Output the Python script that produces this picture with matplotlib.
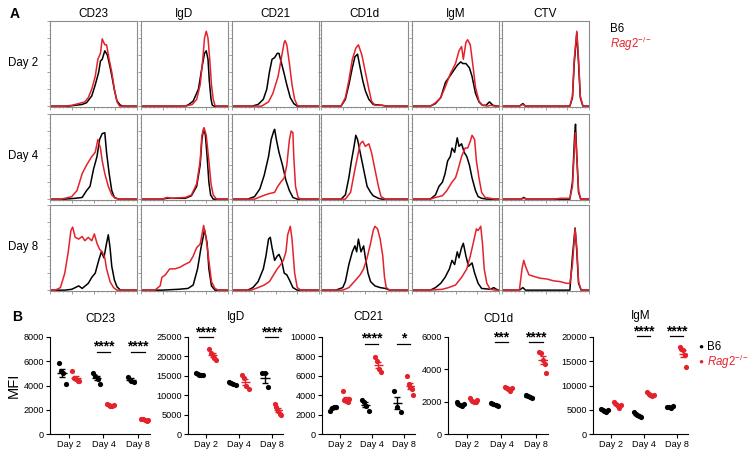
import numpy as np
import matplotlib.pyplot as plt
from matplotlib.ticker import MultipleLocator

plt.rcParams['font.family'] = ['Liberation Sans', 'DejaVu Sans']
plt.rcParams['mathtext.fontset'] = 'custom'
plt.rcParams['mathtext.rm'] = 'Liberation Sans'
plt.rcParams['mathtext.it'] = 'Liberation Sans:italic'

RED = '#e4222b'

markers = ['CD23', 'IgD', 'CD21', 'CD1d', 'IgM', 'CTV']
days = ['Day 2', 'Day 4', 'Day 8']

# histogram traces: (channel %, count % of panel height) for day 2 / 4 / 8
cd23_b6 = [
    [(21, 0), (37, 2), (42, 4), (48, 12), (52, 25), (56, 40), (58, 53), (60, 55), (63, 65), (66, 60), (69, 46), (71, 36), (74, 19), (77, 6), (81, 1), (85, 0)],
    [(17, 0), (29, 1), (37, 2), (42, 10), (46, 15), (50, 35), (54, 50), (57, 70), (60, 77), (63, 78), (65, 55), (68, 30), (71, 10), (74, 2), (79, 0)],
    [(17, 0), (25, 1), (29, 3), (33, 5), (37, 2), (44, 8), (48, 15), (52, 20), (56, 35), (59, 45), (62, 38), (65, 55), (67, 65), (69, 50), (71, 28), (74, 12), (77, 4), (81, 0)],
]
cd23_rag = [
    [(17, 0), (25, 1), (33, 3), (40, 5), (44, 10), (48, 20), (52, 35), (55, 55), (58, 62), (60, 79), (63, 72), (65, 72), (68, 55), (71, 40), (74, 20), (77, 5), (80, 0)],
    [(12, 0), (17, 1), (25, 3), (31, 10), (37, 30), (42, 40), (48, 50), (52, 55), (55, 70), (58, 60), (60, 45), (63, 30), (67, 15), (71, 5), (75, 1), (79, 0)],
    [(6, 0), (12, 3), (17, 20), (21, 45), (24, 70), (26, 74), (29, 62), (33, 60), (37, 63), (40, 58), (44, 62), (48, 58), (51, 66), (54, 55), (57, 48), (60, 45), (63, 38), (65, 25), (69, 10), (73, 3), (77, 0)],
]
igd_b6 = [
    [(51, 0), (55, 2), (60, 6), (66, 20), (70, 45), (73, 62), (75, 65), (77, 55), (78.5, 30), (80.5, 8), (82, 1), (84, 0)],
    [(24, 0), (30, 1), (51, 1), (58, 4), (64, 15), (68, 40), (70, 70), (72, 83), (74, 75), (76, 50), (78, 20), (80, 5), (83, 0)],
    [(24, 0), (43, 1), (54, 2), (60, 6), (65, 25), (69, 50), (71, 60), (73, 71), (76, 55), (78, 25), (81, 5), (85, 0)],
]
igd_rag = [
    [(51, 0), (59, 2), (64, 8), (68, 25), (71, 55), (73, 80), (75, 88), (77, 80), (79, 55), (81, 25), (83, 8), (85, 1), (87, 0)],
    [(24, 0), (30, 2), (35, 1), (51, 2), (58, 5), (64, 18), (68, 45), (70, 75), (72.5, 84), (75, 75), (78, 45), (80.5, 18), (83, 5), (86, 1), (88, 0)],
    [(16, 0), (22, 5), (24, 15), (28, 18), (33, 25), (39, 25), (45, 27), (50, 30), (56, 33), (60, 40), (64, 50), (68, 54), (70, 65), (72, 76), (75, 60), (78, 35), (81, 10), (85, 2), (89, 0)],
]
cd21_b6 = [
    [(23, 0), (30, 2), (36, 8), (40, 20), (43, 40), (46, 55), (49, 57), (52, 62), (54, 62), (57, 50), (60, 38), (63, 25), (67, 10), (71, 3), (75, 0)],
    [(18, 0), (26, 3), (32, 12), (37, 28), (42, 50), (45, 70), (48, 80), (49, 82), (51, 70), (54, 55), (58, 40), (62, 22), (66, 10), (70, 2), (75, 0)],
    [(18, 0), (24, 3), (30, 10), (36, 25), (39, 40), (42, 60), (44, 62), (46, 50), (49, 35), (52, 40), (54, 42), (57, 35), (60, 20), (63, 18), (66, 12), (70, 3), (75, 0)],
]
cd21_rag = [
    [(34, 0), (42, 5), (47, 15), (53, 35), (57, 58), (60, 75), (61, 77), (63, 72), (66, 50), (69, 25), (72, 8), (75, 1), (78, 0)],
    [(26, 0), (33, 3), (41, 6), (49, 8), (52, 14), (56, 20), (60, 25), (63, 40), (66, 70), (68, 80), (70, 78), (71, 50), (73, 15), (76, 2), (79, 0)],
    [(22, 0), (30, 3), (37, 6), (43, 10), (49, 20), (52, 25), (56, 30), (59, 35), (62, 45), (64, 65), (67, 75), (69, 60), (72, 20), (75, 3), (79, 0)],
]
cd1d_b6 = [
    [(23, 0), (28, 8), (32, 25), (36, 45), (39, 58), (42, 61), (45, 45), (48, 30), (51, 18), (55, 8), (60, 2), (70, 1), (75, 0)],
    [(23, 0), (28, 5), (32, 25), (35, 45), (38, 62), (40, 75), (42, 70), (44, 60), (47, 45), (50, 30), (53, 15), (57, 8), (60, 4), (66, 1), (70, 0)],
    [(17, 0), (25, 3), (28, 10), (32, 30), (36, 45), (39, 52), (41, 45), (43, 60), (46, 45), (49, 52), (51, 38), (54, 20), (57, 10), (62, 5), (68, 3), (74, 2), (79, 0)],
]
cd1d_rag = [
    [(23, 0), (28, 10), (32, 30), (36, 55), (40, 68), (43, 72), (47, 60), (51, 40), (55, 20), (58, 6), (62, 1), (70, 1), (77, 0)],
    [(28, 0), (34, 8), (39, 35), (42, 50), (45, 65), (48, 68), (51, 62), (55, 65), (58, 55), (62, 35), (66, 15), (69, 3), (74, 0)],
    [(25, 0), (32, 3), (40, 12), (45, 18), (49, 25), (53, 38), (57, 55), (60, 70), (62, 75), (65, 72), (68, 60), (71, 40), (73, 15), (75, 3), (79, 0)],
]
igm_b6 = [
    [(21, 0), (27, 3), (33, 10), (38.5, 28), (44, 36), (48, 42), (52, 48), (56, 52), (58.5, 50), (62, 50), (66, 45), (69, 35), (73, 15), (77, 5), (81, 1), (85, 1), (89, 5), (93, 1), (98, 0)],
    [(21, 0), (27, 5), (31, 15), (35, 20), (38, 30), (41, 45), (44, 50), (46, 60), (49, 55), (52, 72), (54, 62), (57, 65), (60, 55), (63, 50), (66, 40), (69, 25), (73, 10), (76, 3), (80, 1), (86, 0)],
    [(21, 0), (27, 3), (33, 8), (38, 15), (43, 25), (46, 35), (49, 30), (52, 45), (54, 38), (57, 50), (59, 55), (62, 40), (65, 28), (69, 32), (72, 20), (76, 8), (80, 2), (90, 1), (94, 3), (97, 1)],
]
igm_rag = [
    [(21, 0), (27, 4), (33, 10), (38, 22), (44, 38), (50, 50), (54, 65), (57, 70), (59, 55), (62, 75), (64, 78), (67, 72), (70, 48), (73, 22), (77, 6), (81, 1), (87, 0), (90, 1), (96, 0)],
    [(21, 0), (27, 2), (35, 4), (40, 10), (46, 20), (50, 25), (53, 35), (57, 50), (61, 60), (64, 60), (67, 68), (69, 75), (72, 70), (74, 45), (77, 25), (80, 8), (84, 2), (90, 1), (96, 0)],
    [(21, 0), (35, 1), (42, 3), (50, 6), (57, 15), (63, 25), (67, 40), (71, 58), (74, 72), (76, 70), (79, 75), (81, 55), (83, 25), (86, 8), (90, 1), (96, 0)],
]
ctv_b6 = [
    [(20, 0), (24, 3), (27, 0), (78, 0), (81, 10), (83, 50), (86, 86), (88, 50), (90, 10), (93, 0)],
    [(22, 0), (25, 2), (28, 0), (78, 0), (81, 20), (83.5, 75), (84.5, 88), (86, 50), (88, 8), (90.5, 0)],
    [(20, 0), (24, 3), (27, 0), (78, 0), (81, 40), (84, 73), (86, 45), (88, 8), (91, 0)],
]
ctv_rag = [
    [(20, 0), (24, 2), (27, 0), (78, 0), (81, 12), (83, 55), (86, 88), (88, 55), (90, 12), (93, 0)],
    [(22, 0), (25, 1), (28, 0), (59, 0), (67, 1), (78, 1), (81, 15), (83.5, 65), (84.5, 78), (86, 50), (88, 10), (90.5, 0)],
    [(20, 0), (23, 25), (25, 35), (27, 28), (31, 18), (37, 16), (44, 14), (52, 13), (59, 11), (67, 10), (74, 8), (78, 8), (81, 30), (84, 72), (86, 50), (88, 10), (91, 0)],
]

hist_b6 = [cd23_b6, igd_b6, cd21_b6, cd1d_b6, igm_b6, ctv_b6]
hist_rag = [cd23_rag, igd_rag, cd21_rag, cd1d_rag, igm_rag, ctv_rag]

# MFI per mouse, day 2 / 4 / 8
mfi_cd23_b6 = [[5850, 5200, 5000, 4100], [5000, 4750, 4500, 4150], [4700, 4400, 4300]]
mfi_cd23_rag = [[5200, 4600, 4500, 4400, 4350], [2450, 2400, 2350, 2300, 2380], [1250, 1200, 1150, 1100, 1120]]
mfi_igd_b6 = [[15700, 15400, 15200, 15100, 15300], [13300, 13100, 12900, 12700], [15800, 15600, 12000]]
mfi_igd_rag = [[22000, 20800, 20200, 19500, 19000], [15200, 14500, 12500, 11500], [7800, 7000, 6000, 5200, 5000]]
mfi_cd21_b6 = [[2400, 2700, 2750, 2800], [3500, 3300, 2900, 2400], [4400, 2800, 2300]]
mfi_cd21_rag = [[4400, 3500, 3400, 3300, 3600], [7900, 7500, 6700, 6400], [6000, 5200, 4800, 4600, 4000]]
mfi_cd1d_b6 = [[1950, 1850, 1800, 1750, 1850], [1900, 1850, 1800, 1750], [2400, 2350, 2300, 2200]]
mfi_cd1d_rag = [[2200, 2050, 2000, 1950, 2100], [2900, 2850, 2800, 2650, 2850], [5100, 5000, 4600, 4300, 3800]]
mfi_igm_b6 = [[5100, 4900, 4800, 4600, 5000], [4500, 4200, 4000, 3800, 3600], [5600, 5500, 5400, 5700]]
mfi_igm_rag = [[6600, 6200, 5800, 5400, 6000], [8600, 8200, 8000, 7900, 8100], [17900, 17500, 17300, 16200, 13900]]

mfi_titles = ['CD23', 'IgD', 'CD21', 'CD1d', 'IgM']
mfi_b6 = [mfi_cd23_b6, mfi_igd_b6, mfi_cd21_b6, mfi_cd1d_b6, mfi_igm_b6]
mfi_rag = [mfi_cd23_rag, mfi_igd_rag, mfi_cd21_rag, mfi_cd1d_rag, mfi_igm_rag]
mfi_ymax = [8000, 25000, 10000, 6000, 20000]
mfi_ystep = [2000, 5000, 2000, 2000, 5000]
# (day index, stars, bar height)
mfi_sig = [
    [(1, '****', 6800), (2, '****', 6800)],
    [(0, '****', 24900), (2, '****', 24900)],
    [(1, '****', 9300), (2, '*', 9300)],
    [(1, '***', 5700), (2, '****', 5700)],
    [(1, '****', 20200), (2, '****', 20200)],
]
mfi_title_pad = [11, 12, 12, 11, 13]

W, H = 751, 459
fig = plt.figure(figsize=(W / 100, H / 100), dpi=100)


def px_axes(left, top, width, height):
    return fig.add_axes([left / W, 1 - (top + height) / H, width / W, height / H])


# ---- panel A: histograms ----
col_left = [50, 141, 232, 321, 412, 502]
row_top = [21, 114, 205]
panel_w, panel_h = 87, 86
frame = '#8c8c8c'

for r in range(3):
    for c in range(6):
        ax = px_axes(col_left[c], row_top[r], panel_w, panel_h)
        for trace, color in [(hist_b6[c][r], 'black'), (hist_rag[c][r], RED)]:
            xs = [0] + [p[0] for p in trace] + [100]
            ys = [0] + [p[1] for p in trace] + [0]
            ax.plot(xs, ys, color=color, lw=1.1, solid_joinstyle='round')
        ax.set_xlim(0, 100)
        ax.set_ylim(-1, 100)
        for s in ax.spines.values():
            s.set_color(frame)
            s.set_linewidth(0.8)
        ax.yaxis.set_major_locator(MultipleLocator(20))
        ax.yaxis.set_minor_locator(MultipleLocator(5))
        ax.xaxis.set_major_locator(MultipleLocator(25))
        ax.xaxis.set_minor_locator(MultipleLocator(5))
        ax.tick_params(which='major', length=2.2, width=0.6, color=frame,
                       labelleft=False, labelbottom=False)
        ax.tick_params(which='minor', length=1.0, width=0.5, color=frame)
        if r == 0:
            ax.set_title(markers[c], fontsize=8.5, pad=3)

for r, d in enumerate(days):
    fig.text(23 / W, 1 - (row_top[r] + 42) / H, d, fontsize=8.3,
             ha='center', va='center')

fig.text(10 / W, 1 - 14 / H, 'A', fontsize=10, fontweight='bold',
         ha='left', va='center')
fig.text(610 / W, 1 - 29 / H, 'B6', fontsize=8.3, ha='left', va='center')
fig.text(610 / W, 1 - 44 / H, r'$\mathit{Rag2}^{-/-}$', fontsize=8.3,
         color=RED, ha='left', va='center')

# ---- panel B: MFI dot plots ----
mfi_left = [50, 188, 322, 448, 593]
mfi_width = [100, 95, 93, 100, 95]
mfi_top, mfi_h = 337, 97
offset = 0.2

for i in range(5):
    ax = px_axes(mfi_left[i], mfi_top, mfi_width[i], mfi_h)
    for groups, color, sign in [(mfi_b6[i], 'black', -1), (mfi_rag[i], RED, 1)]:
        for d, vals in enumerate(groups):
            vals = np.array(vals, dtype=float)
            xc = d + sign * offset
            jit = np.linspace(-0.1, 0.1, len(vals))
            ax.scatter(xc + jit, vals, s=14, color=color, zorder=3, linewidths=0)
            m = vals.mean()
            sem = vals.std(ddof=1) / np.sqrt(len(vals))
            ax.hlines(m, xc - 0.14, xc + 0.14, color=color, lw=1.0, zorder=4)
            ax.errorbar(xc, m, yerr=sem, fmt='none', ecolor=color,
                        elinewidth=1.0, capsize=2.5, capthick=1.0, zorder=4)
    for d, stars, yb in mfi_sig[i]:
        ax.plot([d - offset, d + offset], [yb, yb], color='black', lw=0.9,
                clip_on=False)
        ax.annotate(stars, (d, yb), xytext=(0, 0.6), textcoords='offset points',
                    ha='center', va='baseline', fontsize=10, fontweight='bold',
                    annotation_clip=False)
    ax.set_xlim(-0.55, 2.35)
    ax.set_ylim(0, mfi_ymax[i])
    ax.set_yticks(np.arange(0, mfi_ymax[i] + 1, mfi_ystep[i]))
    ax.set_xticks(range(3))
    ax.set_xticklabels(days)
    for s in ['top', 'right']:
        ax.spines[s].set_visible(False)
    for s in ['left', 'bottom']:
        ax.spines[s].set_linewidth(0.8)
    ax.tick_params(length=3, width=0.8, labelsize=6.6, pad=1.5)
    ax.set_title(mfi_titles[i], fontsize=8.5, pad=mfi_title_pad[i])
    if i == 0:
        ax.set_ylabel('MFI', fontsize=10.5, labelpad=2)

fig.text(12 / W, 1 - 317 / H, 'B', fontsize=10, fontweight='bold',
         ha='left', va='center')

# legend for panel B
fig.text(701 / W, 1 - 347 / H, '\u25CF', fontsize=6, ha='center', va='center')
fig.text(707 / W, 1 - 347 / H, 'B6', fontsize=8.3, ha='left', va='center')
fig.text(701 / W, 1 - 362 / H, '\u25CF', fontsize=6, color=RED,
         ha='center', va='center')
fig.text(707 / W, 1 - 362 / H, r'$\mathit{Rag2}^{-/-}$', fontsize=8.3,
         color=RED, ha='left', va='center')

fig.savefig('out.png', dpi=100)
